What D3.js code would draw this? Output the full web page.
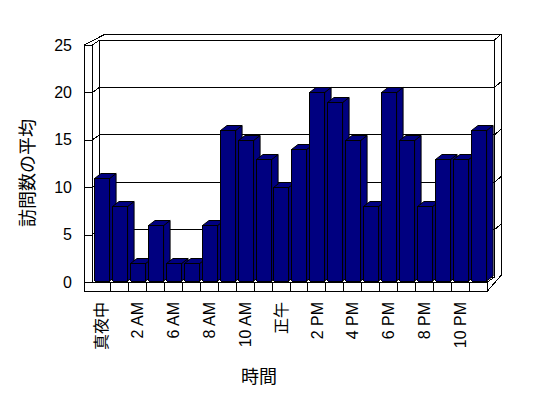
<!DOCTYPE html>
<html>
<head>
<meta charset="utf-8">
<script src="https://cdn.jsdelivr.net/npm/d3@7"></script>
<style>
  body { margin: 0; background: #fff; }
  text { font-family: "Liberation Sans", "Noto Sans CJK JP", sans-serif; fill: #000; }
</style>
</head>
<body>
<div id="chart"></div>
<script>
const hours = ["真夜中", "1 AM", "2 AM", "3 AM", "6 AM", "7 AM", "8 AM", "9 AM", "10 AM", "11 AM", "正午",
  "1 PM", "2 PM", "3 PM", "4 PM", "5 PM", "6 PM", "7 PM", "8 PM", "9 PM", "10 PM", "11 PM"];
const visits = [11, 8, 2, 6, 2, 2, 6, 16, 15, 13, 10, 14, 20, 19, 15, 8, 20, 15, 8, 13, 13, 16];
const yTicks = [0, 5, 10, 15, 20, 25];

const width = 548, height = 398;
const wallOuter = 84, left = 92.5, right = 487.5, floorBottom = 291;
const depth = { x: 7, y: -5 };      // front plane -> back wall
const thick = { x: 7, y: -6 };      // back wall thickness
const barDepth = { x: 6.5, y: -5 };

const svg = d3.select("#chart").append("svg")
  .attr("width", width)
  .attr("height", height);

const x = d3.scaleBand().domain(hours).range([left, right]).paddingInner(0.16).paddingOuter(0.08);
const slot = d3.scaleBand().domain(hours).range([left, right]).padding(0);
const y = d3.scaleLinear().domain([0, 25]).range([282, 45]);

const frame = svg.append("g")
  .attr("fill", "none")
  .attr("stroke", "#000")
  .attr("stroke-width", 1)
  .attr("shape-rendering", "crispEdges");

const y0 = y(0), yTop = y(25);
const bx = depth.x, by = depth.y;

// outline of walls + floor
frame.append("path")
  .attr("d", `M${wallOuter},${floorBottom}V${yTop}L${left + bx + thick.x - 1},${yTop + by + thick.y}` +
    `H${right + bx + thick.x}V${y0 + by + thick.y + 4}L${right},${floorBottom}Z`);

// inner edges
frame.append("path")
  .attr("d", [
    `M${left},${yTop}V${y0}`,
    `M${wallOuter},${yTop}H${left}L${left + bx},${yTop + by}`,
    `M${left + bx},${yTop + by}H${right + bx}L${right + bx + thick.x},${yTop + by + thick.y}`,
    `M${left + bx},${yTop + by}V${y0 + by}H${right + bx}`,
    `M${right + bx},${yTop + by}V${y0 + by}`,
    `M${wallOuter},${y0}H${right}L${right + bx},${y0 + by}`,
    `M${right},${y0}V${floorBottom}`
  ].join(""));

// gridlines on side wall, back wall and wall edge
frame.selectAll("path.grid")
  .data(yTicks.filter(d => d > 0 && d < 25))
  .join("path")
  .attr("class", "grid")
  .attr("d", d => `M${left},${y(d)}L${left + bx},${y(d) + by}H${right + bx}L${right + bx + thick.x},${y(d) + by + thick.y}`);

// floor front dividers
frame.selectAll("line.div")
  .data(hours.slice(1))
  .join("line")
  .attr("class", "div")
  .attr("x1", d => slot(d)).attr("x2", d => slot(d))
  .attr("y1", y0).attr("y2", floorBottom);

// y axis across the side wall front face
const yAxis = svg.append("g")
  .attr("transform", `translate(${left},0)`)
  .call(d3.axisLeft(y).tickValues(yTicks).tickSize(left - wallOuter).tickPadding(12))
  .call(g => g.select(".domain").remove());
yAxis.selectAll("line").attr("stroke", "#000").attr("shape-rendering", "crispEdges");
yAxis.selectAll("text").attr("font-size", 16).attr("font-family", "Liberation Sans, sans-serif");

// bars
const bw = x.bandwidth();
const barBottom = y0 - 1;
const bars = svg.append("g")
  .attr("fill", "#000080")
  .attr("stroke", "#000")
  .attr("stroke-linejoin", "round");

hours.forEach((h, i) => {
  const x0 = Math.round(x(h)) + 0.5, top = Math.round(y(visits[i])) + 0.5;
  const g = bars.append("g");
  g.append("path")
    .attr("d", `M${x0 + bw},${top}L${x0 + bw + barDepth.x},${top + barDepth.y}V${barBottom + barDepth.y}L${x0 + bw},${barBottom}Z`);
  g.append("path")
    .attr("d", `M${x0},${top}L${x0 + barDepth.x},${top + barDepth.y}H${x0 + bw + barDepth.x}L${x0 + bw},${top}Z`);
  g.append("rect")
    .attr("x", x0).attr("y", top)
    .attr("width", bw).attr("height", barBottom - top)
    .attr("shape-rendering", "crispEdges");
});

// category labels (every second one)
svg.append("g").selectAll("text")
  .data(hours.filter((d, i) => i % 2 === 0))
  .join("text")
  .attr("transform", d => `translate(${slot(d) + slot.bandwidth() / 2},302) rotate(-90)`)
  .attr("text-anchor", "end")
  .attr("dy", "0.35em")
  .attr("font-size", 16)
  .text(d => d);

// axis titles
svg.append("text")
  .attr("transform", "translate(28,173) rotate(-90)")
  .attr("text-anchor", "middle")
  .attr("dy", "0.35em")
  .attr("font-size", 18)
  .attr("font-family", "Noto Sans CJK JP, sans-serif")
  .text("訪問数の平均");

svg.append("text")
  .attr("x", 259).attr("y", 383)
  .attr("text-anchor", "middle")
  .attr("font-size", 18)
  .attr("font-family", "Noto Sans CJK JP, sans-serif")
  .text("時間");
</script>
</body>
</html>
